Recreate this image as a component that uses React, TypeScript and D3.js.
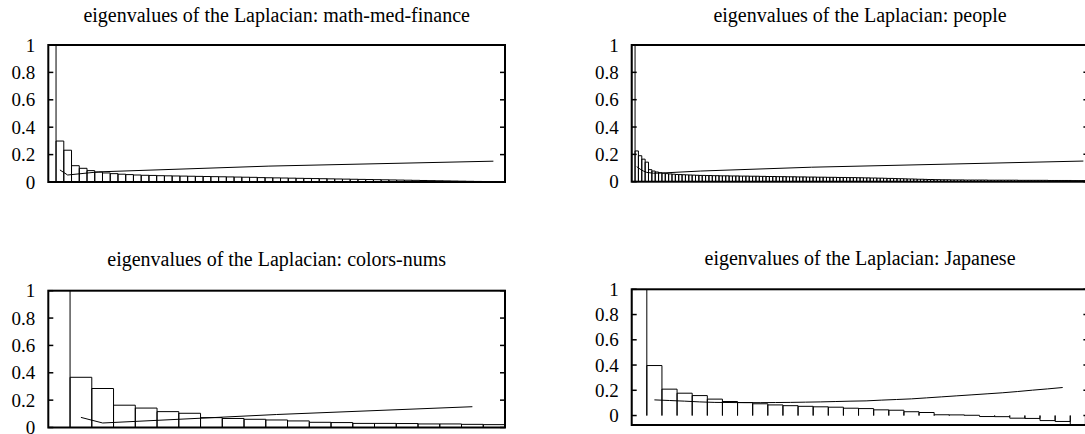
import * as d3 from "d3"

// eigenvalue spectra (bar heights), index 0 is clipped at the top
const mathMedFinance = [
  1.2, 0.299, 0.232, 0.119, 0.1, 0.083, 0.072, 0.066, 0.061, 0.057,
  0.054, 0.051, 0.049, 0.048, 0.046, 0.045, 0.044, 0.043, 0.042, 0.041,
  0.04, 0.039, 0.038, 0.037, 0.036, 0.035, 0.034, 0.032, 0.031, 0.03,
  0.029, 0.028, 0.027, 0.026, 0.025, 0.024, 0.023, 0.022, 0.021, 0.02,
  0.019, 0.018, 0.017, 0.016, 0.015, 0.014, 0.013, 0.012, 0.011, 0.01,
  0.009, 0.008, 0.007, 0.006, 0.005, 0.004, 0.003, 0.002, 0.001
]
const people = [
  1.2, 0.225, 0.19, 0.165, 0.143, 0.088, 0.078, 0.071, 0.066, 0.062,
  0.059, 0.057, 0.055, 0.053, 0.052, 0.051, 0.05, 0.049, 0.048, 0.047,
  0.046, 0.046, 0.045, 0.045, 0.044, 0.044, 0.043, 0.043, 0.043, 0.042,
  0.042, 0.042, 0.041, 0.041, 0.041, 0.04, 0.04, 0.04, 0.039, 0.039,
  0.038, 0.038, 0.038, 0.037, 0.037, 0.037, 0.036, 0.036, 0.036, 0.035,
  0.035, 0.035, 0.034, 0.034, 0.034, 0.033, 0.033, 0.033, 0.032, 0.032,
  0.032, 0.031, 0.031, 0.031, 0.03, 0.03, 0.03, 0.029, 0.029, 0.028,
  0.028, 0.027, 0.027, 0.026, 0.026, 0.025, 0.024, 0.024, 0.023, 0.022,
  0.022, 0.021, 0.02, 0.02, 0.019, 0.018, 0.018, 0.017, 0.016, 0.016,
  0.015, 0.015, 0.014, 0.014, 0.014, 0.013, 0.013, 0.013, 0.013, 0.012,
  0.012, 0.012, 0.012, 0.012, 0.012, 0.012, 0.011, 0.011, 0.011, 0.011,
  0.011, 0.011, 0.011, 0.011, 0.011, 0.01, 0.01, 0.01, 0.01, 0.01,
  0.01, 0.01, 0.01, 0.01, 0.009, 0.009, 0.009, 0.009, 0.009, 0.009,
  0.009, 0.008, 0.008, 0.008, 0.008, 0.007
]
const colorsNums = [
  1.2, 0.367, 0.285, 0.163, 0.142, 0.116, 0.104, 0.072, 0.066, 0.06,
  0.055, 0.048, 0.038, 0.036, 0.03, 0.03, 0.029, 0.026, 0.026, 0.023, 0.021
]
const japanese = [
  1.2, 0.396, 0.209, 0.177, 0.158, 0.13, 0.111, 0.103, 0.093, 0.084,
  0.078, 0.073, 0.069, 0.066, 0.058, 0.055, 0.045, 0.042, 0.03, 0.024,
  0.006, 0.005, 0.002, -0.008, -0.009, -0.021, -0.023, -0.04, -0.047, -0.2
]

// second curve, [index, value]
const mathMedFinanceCurve = [[1, 0.088], [2, 0.051], [6, 0.074], [28, 0.116], [57, 0.152]]
const peopleCurve = [[1, 0.11], [2, 0.092], [3, 0.078], [4, 0.068], [6, 0.062], [8, 0.063], [20, 0.078], [53, 0.106], [134, 0.151]]
const colorsNumsCurve = [[1, 0.074], [2, 0.033], [10, 0.095], [19, 0.152]]
const japaneseCurve = [
  [1, 0.124], [2, 0.119], [3, 0.114], [4, 0.108], [5, 0.104], [6, 0.103], [7, 0.102],
  [8, 0.102], [9, 0.103], [10, 0.104], [11, 0.106], [12, 0.108], [13, 0.111], [14, 0.114],
  [15, 0.116], [16, 0.122], [17, 0.127], [18, 0.132], [19, 0.14], [20, 0.148], [21, 0.156],
  [22, 0.164], [23, 0.172], [24, 0.18], [25, 0.19], [26, 0.201], [27, 0.211], [28, 0.222]
]

const titles = [
  "eigenvalues of the Laplacian: math-med-finance",
  "eigenvalues of the Laplacian: people",
  "eigenvalues of the Laplacian: colors-nums",
  "eigenvalues of the Laplacian: Japanese"
]
const yTicks = [0, 0.2, 0.4, 0.6, 0.8, 1]
const yTickLabels = ["0", "0.2", "0.4", "0.6", "0.8", "1"]

const W = 1085
const H = 434
const boxW = 456.7

const panels = [
  { values: mathMedFinance, curve: mathMedFinanceCurve, left: 48.3, top: 45, bottom: 182, yMin: 0, xPad: 0, titleY: 22 },
  { values: people, curve: peopleCurve, left: 631.7, top: 45, bottom: 181.7, yMin: 0, xPad: 0, titleY: 22 },
  { values: colorsNums, curve: colorsNumsCurve, left: 48.3, top: 290.7, bottom: 427.5, yMin: 0, xPad: 0, titleY: 266 },
  { values: japanese, curve: japaneseCurve, left: 631.7, top: 289.3, bottom: 425, yMin: -0.075, xPad: 0.2, titleY: 265 }
]

const font = "'Liberation Serif', 'Times New Roman', serif"

function Panel({ idx }: { idx: number }) {
  const p = panels[idx]
  const right = p.left + boxW
  const n = p.values.length

  const x = d3.scaleLinear().domain([0, n + p.xPad]).range([p.left, right])
  const y = d3.scaleLinear().domain([p.yMin, 1]).range([p.bottom, p.top])

  const bars = p.values.map((v, i) => {
    const x0 = x(i), x1 = x(i + 1), y0 = y(0), yv = y(v)
    return `M${x0},${y0}V${yv}H${x1}V${y0}`
  }).join("")

  const curve = d3.line<number[]>()
    .x(d => x(d[0] + 0.5))
    .y(d => y(d[1]))(p.curve)

  const clipId = `clip${idx}`

  return (
    <g>
      <defs>
        <clipPath id={clipId}>
          <rect x={p.left} y={p.top} width={boxW} height={p.bottom - p.top} />
        </clipPath>
      </defs>
      <text x={(p.left + right) / 2} y={p.titleY} textAnchor="middle"
        fontFamily={font} fontSize={20}>{titles[idx]}</text>
      <g clipPath={`url(#${clipId})`}>
        <path d={bars} fill="none" stroke="#000" strokeWidth={1} />
        <path d={curve || ""} fill="none" stroke="#000" strokeWidth={1} />
      </g>
      {yTicks.map((t, i) => (
        <g key={t}>
          <line x1={p.left} x2={p.left + 5} y1={y(t)} y2={y(t)} stroke="#000" strokeWidth={1.5} />
          <line x1={right - 5} x2={right} y1={y(t)} y2={y(t)} stroke="#000" strokeWidth={1.5} />
          <text x={p.left - 13} y={y(t)} dy="0.35em" textAnchor="end"
            fontFamily={font} fontSize={19}>{yTickLabels[i]}</text>
        </g>
      ))}
      <rect x={p.left} y={p.top} width={boxW} height={p.bottom - p.top}
        fill="none" stroke="#000" strokeWidth={2} />
    </g>
  )
}

export default function App() {
  return (
    <svg width={W} height={H} style={{ position: "absolute", left: 0, top: 0, background: "#fff" }}>
      {panels.map((_, i) => <Panel key={i} idx={i} />)}
    </svg>
  )
}
